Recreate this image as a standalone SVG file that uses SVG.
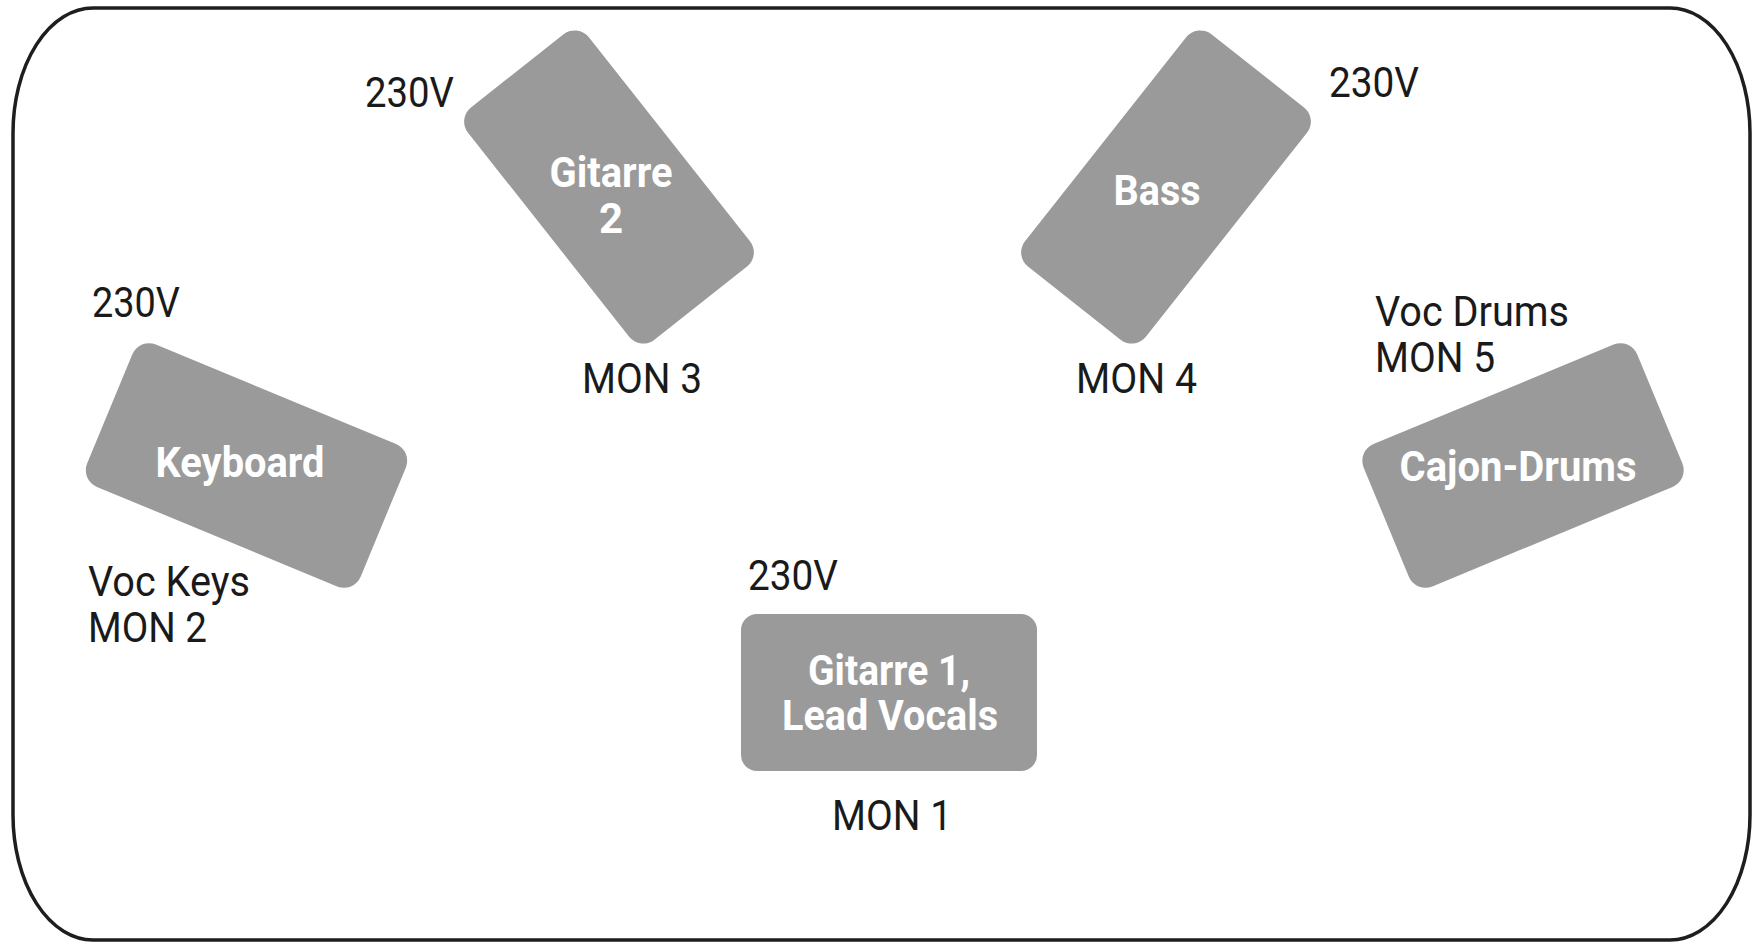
<svg xmlns="http://www.w3.org/2000/svg" width="1753" height="943" viewBox="0 0 1753 943">
  <style>
    .frame { fill: #ffffff; stroke: #1e1e1e; stroke-width: 3.5; }
    .box { fill: #9a9a9a; }
    .nlabel { font-family: Roboto, "Liberation Sans", sans-serif; font-weight: bold; font-size: 42px; fill: #ffffff; text-anchor: middle; }
    .lbl { font-family: Roboto, "Liberation Sans", sans-serif; font-weight: normal; font-size: 43px; fill: #1a1a1a; }
  </style>
  <rect x="0" y="0" width="1753" height="943" fill="#ffffff"/>
  <rect class="frame" x="13" y="8" width="1737" height="932" rx="80" ry="125"/>

  <g id="gitarre2">
    <rect class="box" x="-148" y="-77" width="296" height="154" rx="18" transform="translate(609,187) rotate(51.7)"/>
    <text class="nlabel" x="611" y="187" textLength="123" lengthAdjust="spacingAndGlyphs">Gitarre</text>
    <text class="nlabel" x="611" y="233">2</text>
  </g>
  <g id="bass">
    <rect class="box" x="-148" y="-77" width="296" height="154" rx="18" transform="translate(1166,187) rotate(-51.7)"/>
    <text class="nlabel" x="1157" y="205" textLength="87" lengthAdjust="spacingAndGlyphs">Bass</text>
  </g>
  <g id="keyboard">
    <rect class="box" x="-148" y="-77" width="296" height="154" rx="18" transform="translate(246.5,465.5) rotate(22.5)"/>
    <text class="nlabel" x="240" y="477" textLength="169" lengthAdjust="spacingAndGlyphs">Keyboard</text>
  </g>
  <g id="cajon">
    <rect class="box" x="-148" y="-77" width="296" height="154" rx="18" transform="translate(1523,465.5) rotate(-22.5)"/>
    <text class="nlabel" x="1518" y="481" textLength="237" lengthAdjust="spacingAndGlyphs">Cajon-Drums</text>
  </g>
  <g id="gitarre1">
    <rect class="box" x="741" y="614" width="296" height="157" rx="16"/>
    <text class="nlabel" x="889" y="685" textLength="162" lengthAdjust="spacingAndGlyphs">Gitarre 1,</text>
    <text class="nlabel" x="890" y="730" textLength="216" lengthAdjust="spacingAndGlyphs">Lead Vocals</text>
  </g>

  <g id="labels">
    <text class="lbl" x="365" y="107" textLength="89" lengthAdjust="spacingAndGlyphs">230V</text>
    <text class="lbl" x="1329" y="97" textLength="90" lengthAdjust="spacingAndGlyphs">230V</text>
    <text class="lbl" x="582" y="393" textLength="120" lengthAdjust="spacingAndGlyphs">MON 3</text>
    <text class="lbl" x="1076" y="393" textLength="121" lengthAdjust="spacingAndGlyphs">MON 4</text>
    <text class="lbl" x="1375" y="326" textLength="194" lengthAdjust="spacingAndGlyphs">Voc Drums</text>
    <text class="lbl" x="1375" y="372" textLength="120" lengthAdjust="spacingAndGlyphs">MON 5</text>
    <text class="lbl" x="88" y="596" textLength="162" lengthAdjust="spacingAndGlyphs">Voc Keys</text>
    <text class="lbl" x="88" y="642" textLength="119" lengthAdjust="spacingAndGlyphs">MON 2</text>
    <text class="lbl" x="92" y="317" textLength="88" lengthAdjust="spacingAndGlyphs">230V</text>
    <text class="lbl" x="748" y="590" textLength="90" lengthAdjust="spacingAndGlyphs">230V</text>
    <text class="lbl" x="832" y="830" textLength="120" lengthAdjust="spacingAndGlyphs">MON 1</text>
  </g>
  <g id="connectors"></g>
</svg>
